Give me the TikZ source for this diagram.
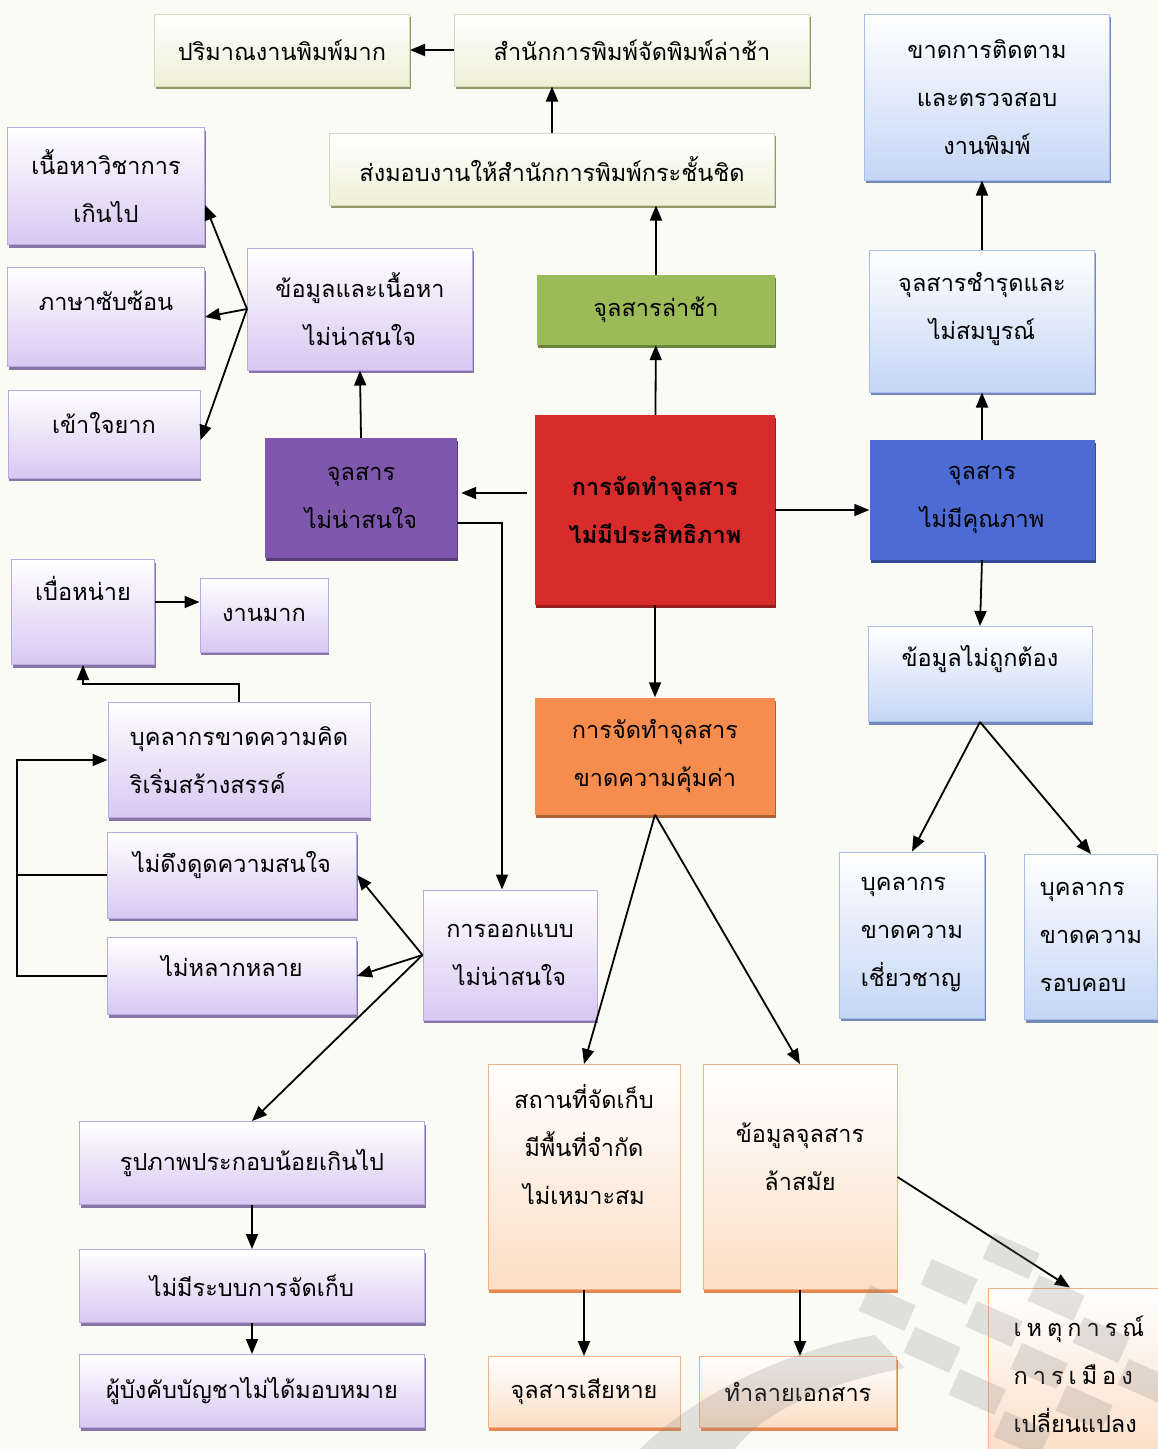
\documentclass[tikz,border=0pt]{standalone}
\usepackage{fontspec}
\newfontfamily\thaifont[Script=Thai]{Loma}
\usetikzlibrary{
    calc,
    arrows.meta,
    shadows
}

\definecolor{paper}{RGB}{251,251,245}
\definecolor{creamfill}{RGB}{238,240,214}
\definecolor{creamline}{RGB}{214,218,188}
\definecolor{creamshade}{RGB}{150,150,105}
\definecolor{lavfill}{RGB}{216,200,242}
\definecolor{lavline}{RGB}{185,168,226}
\definecolor{lavshade}{RGB}{135,118,165}
\definecolor{skyfill}{RGB}{196,214,245}
\definecolor{skyline}{RGB}{168,190,232}
\definecolor{skyshade}{RGB}{115,138,185}
\definecolor{peachfill}{RGB}{251,222,198}
\definecolor{peachline}{RGB}{243,176,130}
\definecolor{peachshade}{RGB}{228,135,80}
\definecolor{leaf}{RGB}{155,187,89}
\definecolor{grape}{RGB}{127,88,174}
\definecolor{brick}{RGB}{216,43,43}
\definecolor{ocean}{RGB}{76,108,212}
\definecolor{pumpkin}{RGB}{246,140,78}

\tikzset{
    >={Triangle[length=15pt,width=12pt]},
    basebox/.style={rectangle, align=center, inner sep=3pt,
        font=\thaifont\fontsize{23.5}{48}\selectfont},
    creambox/.style={basebox, draw=creamline, line width=1pt,
        top color=white, bottom color=creamfill,
        drop shadow={shadow xshift=1pt, shadow yshift=-3pt, fill=creamshade, opacity=1}},
    lavbox/.style={basebox, draw=lavline, line width=1pt,
        top color=white, bottom color=lavfill,
        drop shadow={shadow xshift=1pt, shadow yshift=-3pt, fill=lavshade, opacity=1}},
    skybox/.style={basebox, draw=skyline, line width=1pt,
        top color=white, bottom color=skyfill,
        drop shadow={shadow xshift=1pt, shadow yshift=-3pt, fill=skyshade, opacity=1}},
    peachbox/.style={basebox, draw=peachline, line width=1pt,
        top color=white, bottom color=peachfill,
        drop shadow={shadow xshift=1pt, shadow yshift=-3pt, fill=peachshade, opacity=1}},
    solidbox/.style={basebox, fill=#1,
        drop shadow={shadow xshift=1pt, shadow yshift=-3pt, fill=#1!70!black, opacity=1}},
    link/.style={line width=1.8pt}
}

\begin{document}
\begin{tikzpicture}[x=1pt,y=-1pt]
        \fill[paper] (0,0) rectangle (1158,1449);
        \useasboundingbox (0,0) rectangle (1158,1449);

        % centre
        \draw (655,510) node[solidbox=brick, minimum width=240, minimum height=190,
            font=\thaifont\bfseries\fontsize{23.5}{48}\selectfont](main){การจัดทำจุลสาร\\ไม่มีประสิทธิภาพ};

        % late branch
        \draw (656,310) node[solidbox=leaf, minimum width=238, minimum height=70](late){จุลสารล่าช้า};
        \draw (552,169) node[creambox, minimum width=445, minimum height=72](handover){ส่งมอบงานให้สำนักการพิมพ์กระชั้นชิด};
        \draw (632,50) node[creambox, minimum width=355, minimum height=72](pressdelay){สำนักการพิมพ์จัดพิมพ์ล่าช้า};
        \draw (282,50) node[creambox, minimum width=255, minimum height=72](volume){ปริมาณงานพิมพ์มาก};

        % quality branch
        \draw (982,500) node[solidbox=ocean, minimum width=225, minimum height=120](lowq){จุลสาร\\ไม่มีคุณภาพ};
        \draw (982,321) node[skybox, minimum width=225, minimum height=142, text depth=30pt](damaged){จุลสารชำรุดและ\\ไม่สมบูรณ์};
        \draw (987,97) node[skybox, minimum width=245, minimum height=166](nocheck){ขาดการติดตาม\\และตรวจสอบ\\งานพิมพ์};
        \draw (980,674) node[skybox, minimum width=224, minimum height=95, text depth=36pt](wrong){ข้อมูลไม่ถูกต้อง};
        \draw (912,935) node[skybox, minimum width=145, minimum height=166, align=left](noexpert){บุคลากร\\ขาดความ\\เชี่ยวชาญ};
        \draw (1091,937) node[skybox, minimum width=133, minimum height=165, align=left](careless){บุคลากร\\ขาดความ\\รอบคอบ};

        % interest branch
        \draw (361,498) node[solidbox=grape, minimum width=192, minimum height=120](unattr){จุลสาร\\ไม่น่าสนใจ};
        \draw (360,309) node[lavbox, minimum width=225, minimum height=122](dull){ข้อมูลและเนื้อหา\\ไม่น่าสนใจ};
        \draw (106,186) node[lavbox, minimum width=197, minimum height=117](academic){เนื้อหาวิชาการ\\เกินไป};
        \draw (106,317) node[lavbox, minimum width=197, minimum height=99, text depth=32pt](complex){ภาษาซับซ้อน};
        \draw (104,434) node[lavbox, minimum width=192, minimum height=88, text depth=22pt](hardread){เข้าใจยาก};
        \draw (83,612) node[lavbox, minimum width=143, minimum height=105, text depth=48pt](weary){เบื่อหน่าย};
        \draw (264,615) node[lavbox, minimum width=128, minimum height=74](busy){งานมาก};
        \draw (239,760) node[lavbox, minimum width=262, minimum height=115, align=left](nocreat){บุคลากรขาดความคิด\\ริเริ่มสร้างสรรค์};
        \draw (232,875) node[lavbox, minimum width=249, minimum height=86, text depth=26pt](noattr){ไม่ดึงดูดความสนใจ};
        \draw (232,976) node[lavbox, minimum width=249, minimum height=77, text depth=20pt](novar){ไม่หลากหลาย};
        \draw (510,955) node[lavbox, minimum width=174, minimum height=130](design){การออกแบบ\\ไม่น่าสนใจ};
        \draw (252,1163) node[lavbox, minimum width=345, minimum height=83](fewpic){รูปภาพประกอบน้อยเกินไป};
        \draw (252,1286) node[lavbox, minimum width=345, minimum height=73](nostore){ไม่มีระบบการจัดเก็บ};
        \draw (252,1391) node[lavbox, minimum width=345, minimum height=73](noassign){ผู้บังคับบัญชาไม่ได้มอบหมาย};

        % worth branch
        \draw (655,756) node[solidbox=pumpkin, minimum width=240, minimum height=117](waste){การจัดทำจุลสาร\\ขาดความคุ้มค่า};
        \draw (584,1177) node[peachbox, minimum width=192, minimum height=225, text depth=66pt](place){สถานที่จัดเก็บ\\มีพื้นที่จำกัด\\ไม่เหมาะสม};
        \draw (800,1177) node[peachbox, minimum width=194, minimum height=225, text depth=40pt](outdated){ข้อมูลจุลสาร\\ล้าสมัย};
        \draw (584,1392) node[peachbox, minimum width=192, minimum height=71](ruined){จุลสารเสียหาย};
        \draw (798,1392) node[peachbox, minimum width=197, minimum height=71](destroy){ทำลายเอกสาร};
        \draw (1079,1374) node[peachbox, minimum width=182, minimum height=172, align=left](politics){เ\kern5pt ห\kern5pt ตุ\kern5pt ก\kern5pt า\kern5pt ร\kern5pt ณ์\\ก\kern5pt า\kern5pt ร\kern5pt เ\kern5pt มื\kern5pt อ\kern5pt ง\\เปลี่ยนแปลง};

        % connectors
        \draw[link, ->] (main) -- (late);
        \draw[link, ->] (late.north) -- (late.north |- handover.south);
        \draw[link, ->] (handover.north) -- (handover.north |- pressdelay.south);
        \draw[link, ->] (pressdelay.west) -- (volume.east);

        \draw[link, ->] (main.east) -- (main.east -| lowq.west);
        \draw[link, ->] (lowq.north) -- (damaged.south);
        \draw[link, ->] (damaged.north) -- (damaged.north |- nocheck.south);
        \draw[link, ->] (lowq.south) -- (wrong.north);
        \draw[link, ->] (wrong.south) -- (noexpert.north);
        \draw[link, ->] (wrong.south) -- (careless.north);

        \draw[link, ->, shorten <=8pt, shorten >=4pt] ([yshift=5pt]unattr.east -| main.west) -- ([yshift=5pt]unattr.east);
        \draw[link, ->] (unattr.north) -- (dull.south);
        \draw[link, ->] (dull.west) -- ([yshift=-19pt]academic.east);
        \draw[link, ->] (dull.west) -- (complex.east);
        \draw[link, ->] (dull.west) -- ([yshift=-6pt]hardread.east);

        \draw[link, ->] ([yshift=-25pt]unattr.east) -| ([xshift=-8pt]design.north);
        \draw[link, ->] (design.west) -- (noattr.east);
        \draw[link, ->] (design.west) -- (novar.east);
        \draw[link, ->] (design.west) -- (fewpic.north);
        \draw[link, ->] (fewpic.south) -- (nostore.north);
        \draw[link, ->] (nostore.south) -- (noassign.north);

        \draw[link] (noattr.west) -- ++(-90,0);
        \draw[link, ->] (novar.west) -- ++(-90,0) |- (nocreat.west);
        \draw[link, ->] (nocreat.north) -- ++(0,-18) -| (weary.south);
        \draw[link, ->] ([yshift=10pt]weary.east) -- ([yshift=10pt]weary.east -| busy.west);

        \draw[link, ->] (main.south) -- (waste.north);
        \draw[link, ->] (waste.south) -- (place.north);
        \draw[link, ->] (waste.south) -- (outdated.north);
        \draw[link, ->] (place.south) -- (ruined.north);
        \draw[link, ->] (outdated.south) -- (outdated.south |- destroy.north);
        \draw[link, ->] (outdated.east) -- ([xshift=-9pt]politics.north);

        % watermark
        \begin{scope}[gray, opacity=0.22]
            \fill (640,1449) .. controls (700,1390) and (790,1350) .. (875,1335)
                -- (905,1368) .. controls (830,1382) and (765,1410) .. (735,1449) -- cycle;
            \foreach \i in {0,1,2} {
                \foreach \j in {0,1,2,3} {
                    \fill[shift={(870+\i*62+\j*45,1285-\i*26+\j*42)}, rotate=-24]
                        (0,0) rectangle (50,28);
                }
            }
        \end{scope}
\end{tikzpicture}
\end{document}
